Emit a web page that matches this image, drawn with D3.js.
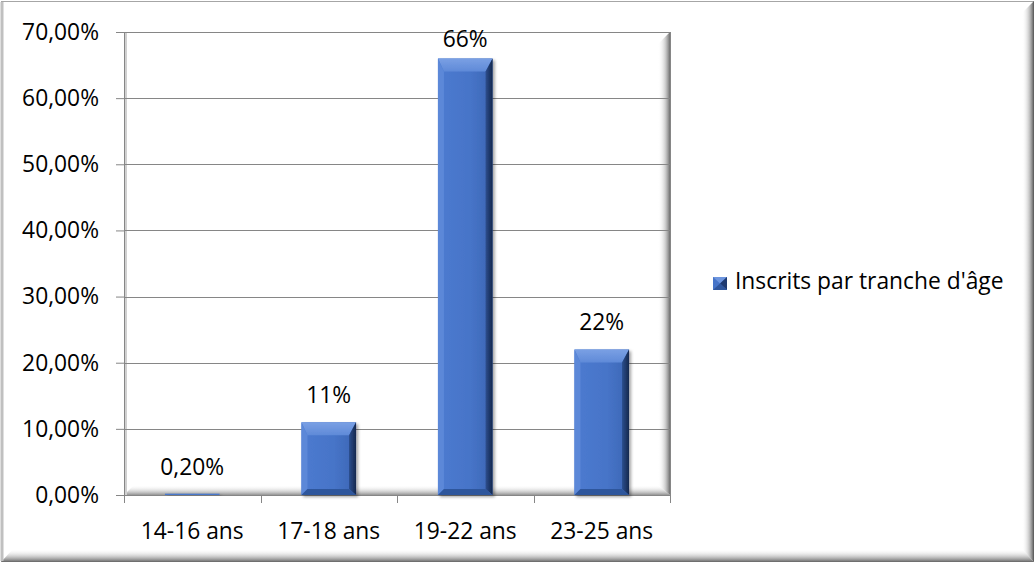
<!DOCTYPE html>
<html><head><meta charset="utf-8">
<script src="https://cdn.jsdelivr.net/npm/d3@7/dist/d3.min.js"></script>
<style>html,body{margin:0;padding:0;background:#fff;}svg{display:block;font-family:"Open Sans",sans-serif;}</style>
</head><body>
<script>
const categories = ["14-16 ans", "17-18 ans", "19-22 ans", "23-25 ans"];
const values = [0.2, 11, 66, 22];
const valueLabels = ["0,20%", "11%", "66%", "22%"];
const yTicks = [0, 10, 20, 30, 40, 50, 60, 70];
const yTickLabels = ["0,00%", "10,00%", "20,00%", "30,00%", "40,00%", "50,00%", "60,00%", "70,00%"];
const seriesName = "Inscrits par tranche d'âge";

const W = 1035, H = 563;
const FS = 22.8;
const m = {left: 124, right: 670, top: 32, bottom: 495};
const svg = d3.select("body").append("svg").attr("width", W).attr("height", H);
const defs = svg.append("defs");

function lg(id, x2, y2, stops) {
  const g = defs.append("linearGradient").attr("id", id).attr("x1", 0).attr("y1", 0).attr("x2", x2).attr("y2", y2);
  stops.forEach(s => g.append("stop").attr("offset", s[0]).attr("stop-color", s[1]).attr("stop-opacity", s[2] == null ? 1 : s[2]));
}
lg("shR", 1, 0, [[0, "#fff", 0], [0.6, "#b0b0b0", 0.7], [1, "#555", 1]]);
lg("shB", 0, 1, [[0, "#fff", 0], [0.6, "#b0b0b0", 0.7], [1, "#666", 1]]);
lg("face", 1, 0, [[0, "#4d7bd0"], [0.6, "#4674c8"], [1, "#3d66b4"]]);
lg("rightBev", 1, 0, [[0, "#2c4e8e"], [1, "#14284e"]]);
lg("topBev", 0, 1, [[0, "#7aa0e4"], [1, "#5f8ad8"]]);
const f = defs.append("filter").attr("id", "bsh").attr("x", "-20%").attr("y", "-20%").attr("width", "150%").attr("height", "150%");
f.append("feDropShadow").attr("dx", 2).attr("dy", 2).attr("stdDeviation", 1.5).attr("flood-color", "#000").attr("flood-opacity", 0.35);

// outer chart frame
svg.append("rect").attr("x", 1.5).attr("y", 1.5).attr("width", W - 3).attr("height", H - 3).attr("fill", "#fff").attr("stroke", "#a6a6a6").attr("stroke-width", 1);
svg.append("polygon").attr("points", `${W-13},13 ${W-1},1 ${W-1},${H-1} ${W-13},${H-14}`).attr("fill", "url(#shR)");
svg.append("polygon").attr("points", `13,${H-14} ${W-13},${H-14} ${W-1},${H-1} 1,${H-1}`).attr("fill", "url(#shB)");
svg.append("line").attr("x1", 2).attr("x2", 2).attr("y1", 2).attr("y2", H - 2).attr("stroke", "#c0c0c0").attr("stroke-width", 3);

const x = d3.scaleBand().domain(categories).range([m.left, m.right]).padding(0);
const y = d3.scaleLinear().domain([0, 70]).range([m.bottom, m.top]);

// plot area inner shadows
svg.append("polygon").attr("points", `${m.right-12},${m.top+12} ${m.right},${m.top} ${m.right},${m.bottom} ${m.right-12},${m.bottom-10}`).attr("fill", "url(#shR)").attr("opacity", 0.85);
svg.append("polygon").attr("points", `${m.left+10},${m.bottom-10} ${m.right-12},${m.bottom-10} ${m.right},${m.bottom} ${m.left},${m.bottom}`).attr("fill", "url(#shB)").attr("opacity", 0.7);
svg.append("line").attr("x1", m.left + 1.5).attr("x2", m.left + 1.5).attr("y1", m.top).attr("y2", m.bottom).attr("stroke", "#d0d0d0").attr("stroke-width", 3);

// gridlines + y axis
const yAxis = d3.axisLeft(y).tickValues(yTicks).tickSize(8).tickPadding(17).tickFormat((d, i) => yTickLabels[i]);
const ga = svg.append("g").attr("transform", `translate(${m.left},0)`).call(yAxis);
ga.select(".domain").attr("stroke", "#868686");
ga.selectAll(".tick line").attr("stroke", "#868686");
ga.selectAll(".tick text").attr("font-size", FS).attr("fill", "#000").attr("font-family", "Open Sans");
svg.append("g").selectAll("line").data(yTicks).join("line")
  .attr("x1", m.left).attr("x2", m.right).attr("y1", d => Math.round(y(d)) + 0.5).attr("y2", d => Math.round(y(d)) + 0.5)
  .attr("stroke", "#868686").attr("stroke-width", 1);
svg.append("line").attr("x1", m.right + 0.5).attr("x2", m.right + 0.5).attr("y1", m.top).attr("y2", m.bottom + 8).attr("stroke", "#868686");

// x axis
const xAxis = d3.axisBottom(x).tickSize(0).tickPadding(27);
const gx = svg.append("g").attr("transform", `translate(0,${m.bottom + 0.5})`).call(xAxis);
gx.select(".domain").remove();
gx.selectAll(".tick text").attr("font-size", FS).attr("fill", "#000").attr("font-family", "Open Sans");
svg.append("g").selectAll("line").data(d3.range(categories.length + 1)).join("line")
  .attr("x1", i => Math.round(m.left + i * x.step()) + 0.5).attr("x2", i => Math.round(m.left + i * x.step()) + 0.5)
  .attr("y1", m.bottom).attr("y2", m.bottom + 8).attr("stroke", "#868686");

// bars
const bw = x.bandwidth() * 0.4;
const bars = svg.append("g");
categories.forEach((c, i) => {
  const x0 = x(c) + (x.bandwidth() - bw) / 2, x1 = x0 + bw;
  const y0 = y(values[i]), y1 = y(0);
  const h = y1 - y0;
  const g = bars.append("g").attr("filter", "url(#bsh)");
  if (h < 20) {
    g.append("rect").attr("x", x0).attr("y", y0).attr("width", bw).attr("height", Math.max(h, 1)).attr("fill", "#4a78cc");
    return;
  }
  const t = 13, l = 6, r = 7, b = 6;
  g.append("rect").attr("x", x0).attr("y", y0).attr("width", bw).attr("height", h).attr("fill", "url(#face)");
  g.append("polygon").attr("points", `${x0},${y0} ${x1},${y0} ${x1-r},${y0+t} ${x0+l},${y0+t}`).attr("fill", "url(#topBev)");
  g.append("polygon").attr("points", `${x0},${y0} ${x0+l},${y0+t} ${x0+l},${y1-b} ${x0},${y1}`).attr("fill", "#5b88d8");
  g.append("polygon").attr("points", `${x1},${y0} ${x1},${y1} ${x1-r},${y1-b} ${x1-r},${y0+t}`).attr("fill", "url(#rightBev)");
  g.append("polygon").attr("points", `${x0},${y1} ${x0+l},${y1-b} ${x1-r},${y1-b} ${x1},${y1}`).attr("fill", "#2f569c");
});

// data labels
svg.append("g").selectAll("text").data(categories).join("text")
  .attr("x", c => x(c) + x.bandwidth() / 2)
  .attr("y", (c, i) => Math.max(y(values[i]) - 19, m.top + 15))
  .attr("text-anchor", "middle").attr("font-size", FS).attr("fill", "#000")
  .text((c, i) => valueLabels[i]);

// legend
const lgG = svg.append("g").attr("transform", "translate(713,277)");
lgG.append("rect").attr("width", 14).attr("height", 13).attr("fill", "#4674c8");
lgG.append("polygon").attr("points", "0,0 14,0 7,6.5").attr("fill", "#6d95de");
lgG.append("polygon").attr("points", "14,0 14,13 7,6.5").attr("fill", "#1f3a70");
lgG.append("polygon").attr("points", "0,13 14,13 7,6.5").attr("fill", "#2f569c");
lgG.append("text").attr("x", 22).attr("y", 12).attr("font-size", FS).attr("fill", "#000").text(seriesName);
</script>
</body></html>
